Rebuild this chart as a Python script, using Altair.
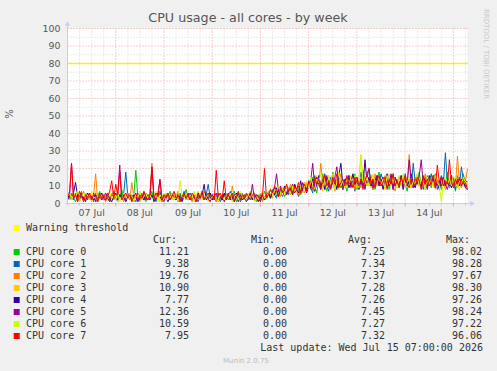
import altair as alt
import pandas as pd

# ---------------- data ----------------
hours = list(range(0, 200))  # hours since 07 Jul 00:00

core_names = ["CPU core 0", "CPU core 1", "CPU core 2", "CPU core 3",
              "CPU core 4", "CPU core 5", "CPU core 6", "CPU core 7"]
core_colors = ["#00CC00", "#0066B3", "#FF8000", "#FFCC00",
               "#330099", "#990099", "#CCFF00", "#FF0000"]

core0 = [4, 2, 6, 3, 1, 5, 3, 7, 2, 4,
         3, 6, 2, 5, 1, 4, 7, 3, 2, 5,
         3, 1, 4, 6, 2, 5, 3, 8, 2, 4,
         6, 2, 3, 5, 19, 4, 2, 6, 3, 1,
         5, 3, 7, 2, 4, 3, 6, 1, 5, 2,
         4, 7, 3, 2, 5, 3, 6, 2, 4, 8,
         3, 5, 2, 6, 1, 4, 3, 7, 2, 5,
         3, 6, 2, 4, 1, 5, 3, 2, 6, 4,
         2, 5, 3, 7, 1, 4, 2, 6, 3, 5,
         2, 4, 6, 3, 1, 5, 3, 2, 7, 4,
         5, 3, 6, 8, 4, 7, 5, 9, 4, 6,
         8, 5, 7, 10, 6, 9, 5, 8, 11, 7,
         12, 8, 15, 10, 6, 13, 9, 17, 11, 7,
         14, 10, 18, 8, 12, 16, 9, 13, 11, 7,
         15, 10, 12, 17, 8, 13, 11, 19, 9, 14,
         10, 16, 12, 8, 14, 18, 11, 9, 13, 15,
         8, 12, 17, 10, 14, 9, 13, 16, 11, 7,
         14, 12, 9, 15, 11, 18, 10, 13, 8, 16,
         12, 9, 14, 17, 10, 13, 8, 15, 11, 18,
         9, 14, 12, 7, 16, 10, 13, 17, 9, 11.21]
core1 = [7, 3, 5, 2, 6, 4, 1, 5, 3, 6,
         2, 5, 4, 1, 6, 3, 5, 2, 4, 3,
         6, 2, 4, 7, 3, 1, 5, 3, 6, 18,
         4, 2, 5, 3, 1, 6, 4, 2, 5, 3,
         2, 6, 3, 4, 1, 5, 7, 2, 4, 3,
         5, 2, 6, 3, 4, 1, 5, 3, 7, 2,
         4, 6, 2, 5, 3, 1, 4, 6, 3, 5,
         11, 3, 5, 2, 4, 6, 1, 3, 5, 2,
         4, 7, 2, 5, 3, 6, 1, 4, 2, 5,
         3, 6, 2, 4, 5, 1, 3, 6, 2, 4,
         6, 4, 8, 5, 3, 9, 6, 4, 7, 10,
         5, 8, 6, 11, 7, 4, 9, 6, 12, 8,
         13, 9, 6, 16, 11, 14, 8, 12, 17, 10,
         7, 15, 11, 13, 9, 18, 12, 8, 14, 10,
         16, 11, 13, 7, 15, 10, 18, 12, 9, 14,
         20, 11, 8, 15, 12, 10, 17, 13, 9, 14,
         11, 16, 8, 13, 10, 15, 12, 9, 17, 11,
         14, 9, 23, 12, 16, 10, 13, 8, 15, 11,
         13, 17, 10, 14, 8, 12, 16, 11, 29, 13,
         10, 15, 12, 8, 14, 11, 21, 13, 10, 9.38]
core2 = [3, 5, 2, 6, 4, 1, 5, 3, 7, 2,
         4, 6, 3, 5, 17, 2, 4, 6, 3, 1,
         5, 3, 6, 2, 4, 7, 3, 5, 1, 4,
         6, 2, 12, 4, 3, 5, 1, 6, 3, 4,
         2, 5, 23, 3, 6, 2, 4, 1, 5, 3,
         6, 2, 4, 5, 3, 7, 1, 4, 6, 2,
         5, 3, 1, 6, 4, 2, 5, 3, 7, 4,
         2, 5, 3, 6, 1, 4, 2, 5, 3, 6,
         4, 2, 10, 3, 5, 1, 6, 4, 2, 5,
         3, 7, 4, 2, 5, 3, 6, 1, 4, 5,
         7, 5, 3, 8, 6, 10, 4, 7, 9, 5,
         8, 11, 6, 9, 7, 5, 10, 8, 6, 12,
         9, 14, 11, 7, 15, 10, 23, 12, 8, 13,
         16, 10, 12, 7, 14, 11, 17, 9, 13, 15,
         10, 12, 16, 8, 14, 11, 9, 18, 13, 10,
         15, 12, 8, 17, 11, 14, 10, 13, 16, 9,
         12, 15, 10, 7, 14, 11, 16, 9, 13, 10,
         28, 12, 9, 15, 11, 14, 8, 13, 17, 10,
         14, 11, 16, 9, 13, 10, 15, 12, 8, 14,
         11, 16, 13, 10, 27, 12, 9, 15, 13, 19.76]
core3 = [5, 2, 4, 6, 3, 1, 5, 4, 2, 6,
         3, 5, 1, 4, 7, 3, 2, 5, 4, 6,
         2, 4, 6, 3, 5, 1, 4, 2, 6, 3,
         5, 3, 1, 6, 4, 2, 5, 3, 7, 2,
         4, 6, 3, 5, 2, 4, 1, 5, 3, 6,
         3, 5, 2, 4, 6, 3, 1, 5, 4, 2,
         6, 3, 5, 1, 4, 7, 2, 5, 3, 4,
         1, 5, 3, 6, 2, 4, 5, 3, 1, 6,
         4, 2, 5, 3, 6, 1, 4, 3, 5, 2,
         6, 3, 4, 2, 5, 1, 6, 3, 4, 2,
         5, 8, 4, 7, 6, 9, 5, 8, 6, 10,
         7, 5, 9, 11, 6, 8, 10, 7, 12, 9,
         11, 14, 8, 12, 16, 10, 13, 7, 15, 11,
         9, 13, 17, 10, 12, 8, 15, 11, 14, 9,
         12, 16, 10, 13, 9, 15, 28, 11, 14, 10,
         13, 9, 16, 12, 10, 15, 11, 14, 8, 13,
         17, 10, 12, 14, 9, 16, 11, 13, 10, 15,
         12, 9, 14, 11, 17, 10, 13, 15, 9, 12,
         16, 11, 13, 8, 14, 10, 15, 12, 9, 14,
         11, 13, 10, 15, 12, 8, 14, 11, 13, 10.90]
core4 = [3, 5, 2, 6, 12, 4, 2, 5, 3, 1,
         6, 3, 4, 2, 5, 1, 4, 6, 3, 2,
         5, 3, 1, 4, 6, 2, 5, 3, 4, 1,
         3, 6, 2, 5, 4, 1, 3, 5, 2, 6,
         4, 2, 5, 1, 3, 6, 4, 2, 5, 3,
         1, 4, 6, 3, 2, 5, 3, 1, 4, 6,
         2, 5, 3, 4, 1, 6, 3, 5, 11, 2,
         4, 6, 2, 5, 3, 1, 4, 2, 6, 3,
         5, 2, 4, 1, 6, 3, 5, 2, 4, 1,
         3, 6, 2, 5, 4, 1, 3, 5, 2, 4,
         6, 3, 7, 5, 9, 4, 8, 6, 10, 5,
         7, 9, 5, 11, 8, 6, 13, 7, 10, 8,
         12, 9, 14, 7, 11, 16, 10, 13, 8, 15,
         11, 9, 14, 12, 8, 16, 23, 10, 13, 15,
         9, 12, 17, 11, 14, 8, 13, 10, 25, 12,
         15, 10, 13, 9, 16, 11, 14, 8, 12, 17,
         10, 13, 9, 15, 12, 11, 16, 8, 14, 10,
         13, 17, 11, 9, 14, 12, 10, 15, 13, 9,
         16, 11, 14, 10, 12, 8, 15, 13, 10, 14,
         12, 9, 15, 11, 13, 10, 14, 12, 9, 7.77]
core5 = [2, 4, 23, 3, 5, 1, 4, 6, 2, 3,
         5, 2, 4, 6, 1, 3, 5, 2, 4, 6,
         3, 1, 5, 4, 2, 6, 22, 3, 5, 2,
         4, 6, 3, 1, 5, 2, 4, 3, 6, 2,
         5, 3, 21, 4, 2, 6, 14, 3, 1, 5,
         4, 2, 6, 3, 5, 1, 4, 2, 5, 3,
         6, 2, 4, 5, 1, 3, 6, 4, 2, 5,
         3, 1, 5, 4, 6, 2, 3, 5, 1, 4,
         6, 3, 2, 5, 4, 1, 6, 3, 5, 2,
         4, 3, 11, 2, 5, 4, 1, 6, 3, 5,
         6, 8, 5, 9, 17, 7, 10, 6, 8, 5,
         9, 7, 11, 6, 8, 10, 7, 12, 9, 6,
         10, 13, 23, 9, 15, 11, 8, 14, 12, 16,
         9, 13, 11, 15, 21, 10, 12, 8, 14, 11,
         16, 9, 13, 11, 15, 10, 14, 12, 8, 17,
         11, 14, 9, 13, 16, 10, 12, 15, 9, 13,
         11, 17, 8, 14, 12, 10, 15, 9, 13, 11,
         25, 12, 9, 14, 11, 16, 25, 10, 13, 8,
         14, 11, 16, 9, 13, 12, 10, 15, 11, 8,
         13, 16, 10, 12, 9, 14, 11, 15, 13, 12.36]
core6 = [4, 6, 2, 5, 3, 8, 1, 4, 6, 3,
         5, 2, 7, 3, 4, 1, 6, 3, 5, 2,
         4, 7, 3, 5, 2, 6, 1, 4, 3, 5,
         2, 6, 4, 1, 5, 3, 7, 2, 4, 6,
         3, 5, 2, 4, 7, 1, 5, 3, 6, 2,
         4, 3, 6, 2, 5, 1, 13, 4, 3, 6,
         2, 5, 3, 7, 1, 4, 6, 2, 5, 3,
         6, 2, 4, 5, 3, 1, 6, 4, 2, 5,
         3, 6, 1, 4, 5, 2, 7, 3, 4, 2,
         5, 3, 6, 1, 4, 2, 5, 7, 3, 4,
         6, 9, 5, 8, 7, 10, 6, 9, 5, 11,
         8, 6, 10, 7, 9, 12, 8, 6, 10, 13,
         9, 15, 11, 8, 14, 12, 17, 10, 13, 9,
         16, 11, 14, 8, 12, 18, 10, 13, 9, 15,
         11, 14, 10, 16, 12, 9, 27, 13, 11, 15,
         10, 13, 17, 9, 12, 15, 11, 14, 8, 16,
         12, 10, 15, 13, 9, 14, 11, 17, 10, 12,
         15, 9, 13, 11, 16, 10, 14, 12, 8, 15,
         11, 14, 9, 16, 12, 10, 1, 13, 15, 11,
         14, 10, 16, 12, 9, 13, 11, 15, 12, 10.59]
core7 = [4, 6, 23, 3, 5, 2, 7, 4, 1, 5,
         3, 6, 2, 5, 4, 1, 6, 3, 5, 2,
         4, 7, 13, 3, 11, 5, 18, 2, 4, 6,
         3, 5, 1, 4, 6, 2, 5, 3, 7, 4,
         2, 5, 20, 3, 6, 4, 13, 2, 5, 3,
         6, 2, 4, 7, 3, 5, 1, 4, 6, 3,
         5, 2, 6, 4, 1, 5, 3, 7, 2, 4,
         6, 3, 5, 2, 19, 4, 6, 3, 13, 2,
         5, 3, 6, 1, 4, 7, 2, 5, 3, 6,
         4, 2, 5, 6, 3, 1, 5, 4, 20, 3,
         5, 8, 6, 10, 7, 4, 9, 6, 8, 11,
         7, 9, 5, 10, 8, 12, 6, 9, 11, 7,
         13, 10, 8, 15, 11, 14, 9, 12, 16, 10,
         13, 8, 15, 11, 17, 9, 12, 14, 10, 16,
         11, 13, 9, 15, 12, 10, 14, 8, 13, 17,
         20, 11, 14, 9, 13, 16, 10, 12, 15, 8,
         14, 11, 17, 10, 13, 9, 15, 12, 16, 11,
         9, 14, 12, 10, 15, 13, 8, 16, 11, 14,
         10, 13, 16, 9, 22, 12, 15, 10, 13, 11,
         25, 12, 9, 14, 11, 15, 10, 13, 12, 7.95]
series = [core0, core1, core2, core3, core4, core5, core6, core7]

cur_vals = ["11.21", "9.38", "19.76", "10.90", "7.77", "12.36", "10.59", "7.95"]
min_vals = ["0.00"] * 8
avg_vals = ["7.25", "7.34", "7.37", "7.28", "7.26", "7.45", "7.27", "7.32"]
max_vals = ["98.02", "98.28", "97.67", "98.30", "97.26", "98.24", "97.22", "96.06"]

warning_level = [80]
y_ticks = list(range(0, 101, 10))
y_minor = list(range(5, 100, 10))
x_major = list(range(24, 199, 24))
x_minor = [h for h in range(6, 199, 6) if h % 24 != 0]
day_label_hours = [12 + 24 * i for i in range(8)]
day_labels = ["07 Jul", "08 Jul", "09 Jul", "10 Jul", "11 Jul", "12 Jul", "13 Jul", "14 Jul"]

# ---------------- layout ----------------
W, H = 400, 175
PAD_L, PAD_T = 67.5, 28.5
AXIS_COL = "#C8CCF2"
TXT = "#555555"
MONO = "DejaVu Sans Mono"
SANS = "DejaVu Sans"

xs = alt.Scale(domain=[0, 199], nice=False, zero=False)
ys = alt.Scale(domain=[0, 100], nice=False)

rows = []
for name, vals in zip(core_names, series):
    for h, v in zip(hours, vals):
        rows.append({"hour": h, "value": v, "core": name})
df = pd.DataFrame(rows)

one = pd.DataFrame({"a": [0]})
layers = []

# grids
layers.append(alt.Chart(pd.DataFrame({"v": y_minor})).mark_rule(
    color="#D6D6D6", strokeDash=[1, 2], strokeWidth=1).encode(
    y=alt.Y("v:Q", scale=ys, axis=None)))
layers.append(alt.Chart(pd.DataFrame({"h": x_minor})).mark_rule(
    color="#D6D6D6", strokeDash=[1, 2], strokeWidth=1).encode(
    x=alt.X("h:Q", scale=xs, axis=None)))
layers.append(alt.Chart(pd.DataFrame({"v": y_ticks[1:]})).mark_rule(
    color="#EFA0A0", strokeDash=[1, 2], strokeWidth=1).encode(
    y=alt.Y("v:Q", scale=ys, axis=None)))
layers.append(alt.Chart(pd.DataFrame({"h": x_major})).mark_rule(
    color="#EFA0A0", strokeDash=[1, 2], strokeWidth=1).encode(
    x=alt.X("h:Q", scale=xs, axis=None)))

# warning threshold
layers.append(alt.Chart(pd.DataFrame({"v": warning_level})).mark_rule(
    color="#F5F500", strokeWidth=1.6).encode(
    y=alt.Y("v:Q", scale=ys, axis=None)))

# data lines
layers.append(alt.Chart(df).mark_line(strokeWidth=1).encode(
    x=alt.X("hour:Q", scale=xs, axis=None),
    y=alt.Y("value:Q", scale=ys, axis=None),
    color=alt.Color("core:N", scale=alt.Scale(domain=core_names, range=core_colors), legend=None),
    order=alt.Order("hour:Q"),
))

# axes lines + arrows
layers.append(alt.Chart(one).mark_rule(color=AXIS_COL, strokeWidth=1).encode(
    x=alt.value(0), y=alt.value(-3), y2=alt.value(H + 2)))
layers.append(alt.Chart(one).mark_rule(color=AXIS_COL, strokeWidth=1).encode(
    x=alt.value(-2), x2=alt.value(403), y=alt.value(H)))
layers.append(alt.Chart(one).mark_point(shape="triangle-up", filled=True, size=28,
                                        color=AXIS_COL, opacity=1).encode(
    x=alt.value(0), y=alt.value(-5)))
layers.append(alt.Chart(one).mark_point(shape="triangle-right", filled=True, size=28,
                                        color=AXIS_COL, opacity=1).encode(
    x=alt.value(405), y=alt.value(H)))

# x ticks below axis
layers.append(alt.Chart(pd.DataFrame({"h": x_major})).mark_rule(color="#EFA0A0").encode(
    x=alt.X("h:Q", scale=xs, axis=None), y=alt.value(H), y2=alt.value(H + 3)))
layers.append(alt.Chart(pd.DataFrame({"h": x_minor})).mark_rule(color="#C8C8C8").encode(
    x=alt.X("h:Q", scale=xs, axis=None), y=alt.value(H), y2=alt.value(H + 2)))

# y tick labels
layers.append(alt.Chart(pd.DataFrame({"v": y_ticks})).mark_text(
    align="right", baseline="middle", font=SANS, fontSize=9.4, color=TXT).encode(
    x=alt.value(-7), y=alt.Y("v:Q", scale=ys, axis=None), text=alt.Text("v:Q")))

# x day labels
layers.append(alt.Chart(pd.DataFrame({"h": day_label_hours, "t": day_labels})).mark_text(
    align="center", baseline="middle", font=SANS, fontSize=9.4, color=TXT).encode(
    x=alt.X("h:Q", scale=xs, axis=None), y=alt.value(184), text="t:N"))

# title and side texts
layers.append(alt.Chart(one).mark_text(
    align="center", baseline="middle", font=SANS, fontSize=12.7, color=TXT).encode(
    x=alt.value(248 - PAD_L), y=alt.value(18 - PAD_T), text=alt.value("CPU usage - all cores - by week")))
layers.append(alt.Chart(one).mark_text(
    align="center", baseline="middle", font=SANS, fontSize=10, color=TXT, angle=270).encode(
    x=alt.value(10 - PAD_L), y=alt.value(114 - PAD_T), text=alt.value("%")))
layers.append(alt.Chart(one).mark_text(
    align="center", baseline="middle", font=SANS, fontSize=7, color="#C8C8C8", angle=90).encode(
    x=alt.value(486 - PAD_L), y=alt.value(54 - PAD_T), text=alt.value("RRDTOOL / TOBI OETIKER")))

# legend
def txt(s, X, Y, align="left", font=MONO, size=10, color="#333333"):
    return alt.Chart(one).mark_text(align=align, baseline="middle", font=font,
                                    fontSize=size, color=color).encode(
        x=alt.value(X - PAD_L), y=alt.value(Y - PAD_T), text=alt.value(s))

def sq(color, Y):
    return alt.Chart(one).mark_square(filled=True, size=36, color=color, opacity=1).encode(
        x=alt.value(16.7 - PAD_L), y=alt.value(Y - PAD_T))

layers.append(sq("#FFFF00", 228))
layers.append(txt("Warning threshold", 26, 228))
for head, X in zip(["Cur:", "Min:", "Avg:", "Max:"], [177, 275, 372, 470]):
    layers.append(txt(head, X, 240, align="right"))
for i, name in enumerate(core_names):
    Y = 252 + 12 * i
    layers.append(sq(core_colors[i], Y))
    layers.append(txt(name, 26, Y))
    for col, X in zip([cur_vals, min_vals, avg_vals, max_vals], [189, 287, 385, 482]):
        layers.append(txt(col[i], X, Y, align="right"))
layers.append(txt("Last update: Wed Jul 15 07:00:00 2026", 483, 348, align="right"))
layers.append(txt("Munin 2.0.75", 223, 361, font=SANS, size=7, color="#BBBBBB"))

chart = alt.layer(*layers).properties(
    width=W, height=H,
    autosize=alt.AutoSizeParams(type="none"),
    padding={"left": PAD_L, "top": PAD_T, "right": 497 - PAD_L - W, "bottom": 371 - PAD_T - H},
    background="#F0F0F0",
).configure_view(fill="white", stroke=None)

chart.save("out.html", embed_options={"renderer": "svg", "actions": False})
